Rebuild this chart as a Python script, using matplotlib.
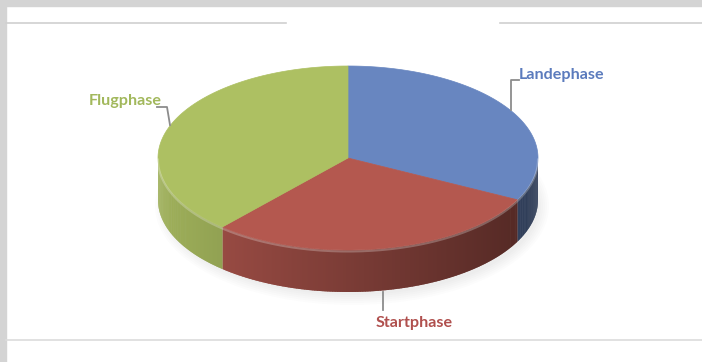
import numpy as np
import matplotlib
matplotlib.use("Agg")
import matplotlib.pyplot as plt
from matplotlib.collections import PolyCollection
from matplotlib.patches import Polygon, Rectangle, Ellipse

# Data (shares, in percent)
labels = ["Landephase", "Startphase", "Flugphase"]
values = [32.5, 29.0, 38.5]
top_colors = ["#6886c0", "#b4584f", "#adc062"]
text_colors = ["#5b7bbd", "#b0504e", "#a2b85c"]

# Pie geometry in pixels
cx, cy = 348, 158
a, b = 190, 92
depth = 42

fig = plt.figure(figsize=(7.02, 3.62), dpi=100)
ax = fig.add_axes([0, 0, 1, 1])
ax.set_xlim(0, 702)
ax.set_ylim(362, 0)
ax.axis("off")

# frame / background
ax.add_patch(Rectangle((0, 0), 702, 362, color="white", zorder=0))
ax.add_patch(Rectangle((0, 0), 702, 6, color="#d4d4d4", zorder=1))
ax.add_patch(Rectangle((0, 0), 6, 362, color="#d4d4d4", zorder=1))
ax.plot([6, 286], [23, 23], color="#d0d0d0", lw=1.2, zorder=1)
ax.plot([500, 702], [23, 23], color="#d0d0d0", lw=1.2, zorder=1)
ax.plot([6, 702], [340, 340], color="#dcdcdc", lw=1.2, zorder=1)


def pt(t, dy=0):
    r = np.radians(t)
    return cx + a * np.cos(r), cy - b * np.sin(r) + dy


# soft shadow under the pie
for k in range(6):
    ax.add_patch(Ellipse((cx + 4, cy + depth + 6), 2 * a + 14 - 4 * k, 2 * b + 14 - 4 * k,
                         color="#000000", alpha=0.012, lw=0, zorder=2))

total = sum(values)
bounds = 90 - np.cumsum([0] + values) / total * 360

# side wall, shaded from light (left) to dark (right)
for i in range(len(values)):
    t0, t1 = bounds[i + 1], bounds[i]
    base = np.array(matplotlib.colors.to_rgb(top_colors[i]))
    ts = np.append(np.arange(t0, t1, 0.5), t1)
    polys, cols = [], []
    for u, v in zip(ts[:-1], ts[1:]):
        m = (u + v) / 2
        if np.sin(np.radians(m)) > 0.02:
            continue
        w = min(v + 0.4, t1)
        polys.append([pt(u), pt(w), pt(w, depth), pt(u, depth)])
        f = 0.92 - 0.47 * (1 + np.cos(np.radians(m))) / 2
        cols.append(np.clip(base * f, 0, 1))
    if polys:
        ax.add_collection(PolyCollection(polys, facecolors=cols, edgecolors="none",
                                         linewidths=0, zorder=3))

# top face
for i in range(len(values)):
    t0, t1 = bounds[i + 1], bounds[i]
    ts = np.linspace(t0, t1, 200)
    xy = [(cx, cy)] + [pt(t) for t in ts]
    ax.add_patch(Polygon(xy, closed=True, facecolor=top_colors[i],
                         edgecolor=top_colors[i], lw=0.5, zorder=4))

# light rim along the front edge
ts = np.linspace(180, 360, 300)
rim = np.array([pt(t) for t in ts])
ax.plot(rim[:, 0], rim[:, 1] + 1.5, color="white", alpha=0.25, lw=1.5, zorder=5)

# labels with leader lines
lc = "#8c8c8c"
ax.plot([519, 511, 511], [80, 80, 110], color=lc, lw=1.3, zorder=6)
ax.plot([157, 167, 170], [107, 107, 125], color=lc, lw=1.3, zorder=6)
ax.plot([383, 383], [292, 310], color=lc, lw=1.3, zorder=6)

fkw = dict(family="Lato", fontsize=11.6, fontweight="bold", zorder=7)
ax.text(519, 75, labels[0], color=text_colors[0], ha="left", va="center", **fkw)
ax.text(414, 323, labels[1], color=text_colors[1], ha="center", va="center", **fkw)
ax.text(162, 101, labels[2], color=text_colors[2], ha="right", va="center", **fkw)

fig.savefig("out.png", dpi=100)
